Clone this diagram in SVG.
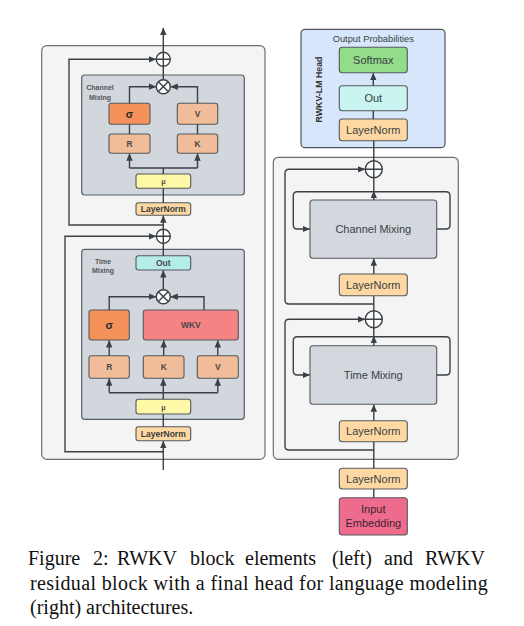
<svg xmlns="http://www.w3.org/2000/svg" width="524" height="626" viewBox="0 0 524 626">
<defs>
<marker id="ah" markerUnits="userSpaceOnUse" markerWidth="8" markerHeight="8" viewBox="0 0 8 8" refX="7" refY="4" orient="auto">
<path d="M0,0.8 L7.5,4 L0,7.2 Z" fill="#3b4046"/>
</marker>
<style>
.ln{fill:none;stroke:#3b4046;stroke-width:1.4}
.pan{fill:#f4f4f4;stroke:#6e6e6e;stroke-width:1.2}
.inner{fill:#d2d6dd;stroke:#5a5f66;stroke-width:1.2}
.bx{stroke:#55595e;stroke-width:1.1}
.ls{font-family:"Liberation Sans",Arial,sans-serif;font-weight:bold;fill:#4a4a4a;text-anchor:middle}
.rs{font-family:"Liberation Sans",Arial,sans-serif;fill:#3a3f44;text-anchor:middle;font-size:11px}
.cap{font-family:"Liberation Serif","Times New Roman",serif;font-size:20px;fill:#111}
.circ{fill:#fff;stroke:#3b4046;stroke-width:1.4}
</style>
</defs>

<!-- Left outer panel -->
<rect id="left-panel" x="41.7" y="45.7" width="223.3" height="413.6" rx="5" class="pan"/>

<!-- Channel mixing inner -->
<g id="channel-mixing-panel">
<rect x="81.7" y="75" width="162.6" height="120" rx="3" class="inner"/>
<text x="100" y="90" class="ls" style="font-size:7px;fill:#555">Channel</text>
<text x="100" y="99.5" class="ls" style="font-size:7px;fill:#555">Mixing</text>
</g>
<g id="cm-sigma"><rect x="109" y="103.3" width="41" height="21" rx="2.5" class="bx" fill="#f5915a"/><text x="129.5" y="118" class="ls" style="font-size:11px;fill:#2b2b2b">σ</text></g>
<g id="cm-v"><rect x="177.3" y="103.3" width="40.4" height="21" rx="2.5" class="bx" fill="#f1bc9a"/><text x="197.5" y="117" class="ls" style="font-size:8.5px">V</text></g>
<g id="cm-r"><rect x="109" y="134" width="41" height="19.3" rx="2.5" class="bx" fill="#f1bc9a"/><text x="129.5" y="146.8" class="ls" style="font-size:8.5px">R</text></g>
<g id="cm-k"><rect x="177.3" y="134" width="40.4" height="19.3" rx="2.5" class="bx" fill="#f1bc9a"/><text x="197.5" y="146.8" class="ls" style="font-size:8.5px">K</text></g>
<g id="cm-mu"><rect x="136" y="174" width="54.7" height="14.3" rx="2.5" class="bx" fill="#fff8a6"/><text x="163.3" y="184" class="ls" style="font-size:7px">μ</text></g>
<g id="cm-layernorm"><rect x="136" y="202.7" width="54.7" height="12.6" rx="2.5" class="bx" fill="#fdd8a2"/><text x="163.3" y="212" class="ls" style="font-size:8.5px;fill:#3d3d3d">LayerNorm</text></g>
<g id="cm-mult"><circle cx="163.3" cy="86.7" r="7" class="circ"/><path d="M158.4,81.8 L168.2,91.6 M168.2,81.8 L158.4,91.6" class="ln"/></g>
<g id="cm-plus"><circle cx="163.3" cy="59.3" r="7" class="circ"/><path d="M156.3,59.3 H170.3 M163.3,52.3 V66.3" class="ln"/></g>

<!-- Time mixing inner -->
<g id="time-mixing-panel">
<rect x="81.7" y="249.3" width="162.6" height="170" rx="3" class="inner"/>
<text x="103" y="264" class="ls" style="font-size:7px;fill:#555">Time</text>
<text x="103" y="273" class="ls" style="font-size:7px;fill:#555">Mixing</text>
</g>
<g id="tm-out"><rect x="136" y="255.7" width="54.7" height="14.3" rx="2.5" class="bx" fill="#b4ece8"/><text x="163.3" y="266" class="ls" style="font-size:8.5px">Out</text></g>
<g id="tm-sigma"><rect x="89" y="310" width="40.3" height="30" rx="2.5" class="bx" fill="#f5915a"/><text x="109.2" y="329" class="ls" style="font-size:11px;fill:#2b2b2b">σ</text></g>
<g id="tm-wkv"><rect x="143.3" y="310" width="95" height="30" rx="2.5" class="bx" fill="#f58383"/><text x="190.8" y="328.3" class="ls" style="font-size:8.5px">WKV</text></g>
<g id="tm-r"><rect x="89" y="355.7" width="40.3" height="22.6" rx="2.5" class="bx" fill="#f1bc9a"/><text x="109.2" y="370" class="ls" style="font-size:8.5px">R</text></g>
<g id="tm-k"><rect x="143.3" y="355.7" width="40.7" height="22.6" rx="2.5" class="bx" fill="#f1bc9a"/><text x="163.7" y="370" class="ls" style="font-size:8.5px">K</text></g>
<g id="tm-v"><rect x="197.3" y="355.7" width="41" height="22.6" rx="2.5" class="bx" fill="#f1bc9a"/><text x="217.8" y="370" class="ls" style="font-size:8.5px">V</text></g>
<g id="tm-mu"><rect x="136" y="399.3" width="54.7" height="14.7" rx="2.5" class="bx" fill="#fff8a6"/><text x="163.3" y="409.5" class="ls" style="font-size:7px">μ</text></g>
<g id="tm-layernorm"><rect x="136" y="426.7" width="54.7" height="14" rx="2.5" class="bx" fill="#fdd8a2"/><text x="163.3" y="436.8" class="ls" style="font-size:8.5px;fill:#3d3d3d">LayerNorm</text></g>
<g id="tm-mult"><circle cx="163.3" cy="296.7" r="7" class="circ"/><path d="M158.4,291.8 L168.2,301.6 M168.2,291.8 L158.4,301.6" class="ln"/></g>
<g id="tm-plus"><circle cx="163.3" cy="236.3" r="7" class="circ"/><path d="M156.3,236.3 H170.3 M163.3,229.3 V243.3" class="ln"/></g>

<!-- Right head panel -->
<g id="head-panel">
<rect x="301" y="29.3" width="144" height="118.4" rx="4" fill="#d7e6fb" stroke="#4f555c" stroke-width="1.2"/>
<text x="373.3" y="41.5" class="rs" style="font-size:9.3px">Output Probabilities</text>
<text transform="translate(321.5,89.5) rotate(-90)" class="ls" style="font-size:8.8px;fill:#333">RWKV-LM Head</text>
</g>
<g id="softmax"><rect x="339.3" y="47.3" width="68" height="25.4" rx="3" class="bx" fill="#92dc8a"/><text x="373.3" y="64" class="rs">Softmax</text></g>
<g id="head-out"><rect x="339.3" y="85.7" width="68" height="25" rx="3" class="bx" fill="#c9f4f0"/><text x="373.3" y="102" class="rs">Out</text></g>
<g id="head-layernorm"><rect x="339.3" y="119" width="68" height="21.7" rx="3" class="bx" fill="#fdd8a2"/><text x="373.3" y="133.7" class="rs">LayerNorm</text></g>

<!-- Right block panel -->
<rect id="block-panel" x="273.3" y="157.3" width="185" height="302" rx="5" class="pan"/>
<g id="channel-mixing"><rect x="310" y="200" width="126.7" height="58.3" rx="3" class="bx" fill="#d3d7de"/><text x="373.3" y="232.8" class="rs">Channel Mixing</text></g>
<g id="cm-ln-right"><rect x="339.3" y="274" width="68" height="21.7" rx="3" class="bx" fill="#fdd8a2"/><text x="373.3" y="288.7" class="rs">LayerNorm</text></g>
<g id="time-mixing"><rect x="310" y="345.7" width="126.7" height="58.6" rx="3" class="bx" fill="#d3d7de"/><text x="373.3" y="378.8" class="rs">Time Mixing</text></g>
<g id="tm-ln-right"><rect x="339.3" y="420.7" width="68" height="21" rx="3" class="bx" fill="#fdd8a2"/><text x="373.3" y="435.2" class="rs">LayerNorm</text></g>
<g id="plus-right-top"><circle cx="373.8" cy="169.3" r="8.5" class="circ"/><path d="M365.3,169.3 H382.3 M373.8,160.8 V177.8" class="ln"/></g>
<g id="plus-right-bottom"><circle cx="373.8" cy="319.3" r="8.5" class="circ"/><path d="M365.3,319.3 H382.3 M373.8,310.8 V327.8" class="ln"/></g>
<g id="ln0-right"><rect x="339.3" y="468.3" width="68" height="20.7" rx="3" class="bx" fill="#fdd8a2"/><text x="373.3" y="482.5" class="rs">LayerNorm</text></g>
<g id="input-embedding"><rect x="339.3" y="497.7" width="68" height="37.3" rx="3" class="bx" fill="#ee6b8d"/><text x="373.3" y="513" class="rs" style="fill:#3a2630">Input</text><text x="373.3" y="526.5" class="rs" style="fill:#3a2630">Embedding</text></g>

<!-- Connectors -->
<g id="connectors">
<path d="M163.3,52.3 V28" class="ln" marker-end="url(#ah)"/>
<path d="M163.3,79.7 V66.3" class="ln"/>
<path d="M129.5,103.3 V86.7 H155.8" class="ln" marker-end="url(#ah)"/>
<path d="M197.5,103.3 V86.7 H170.8" class="ln" marker-end="url(#ah)"/>
<path d="M129.5,134 V124.3 M197.5,134 V124.3" class="ln"/>
<path d="M163.3,174 V168 M129.5,168 H197.5" class="ln"/>
<path d="M129.5,168 V153.8" class="ln" marker-end="url(#ah)"/>
<path d="M197.5,168 V153.8" class="ln" marker-end="url(#ah)"/>
<path d="M163.3,202.7 V188.3" class="ln"/>
<path d="M163.3,229.3 V215.8" class="ln" marker-end="url(#ah)"/>
<path d="M163.3,225 H69 V59.3 H155.8" class="ln" marker-end="url(#ah)"/>
<path d="M163.3,255.7 V243.3" class="ln"/>
<path d="M163.3,289.7 V270.5" class="ln" marker-end="url(#ah)"/>
<path d="M109.2,310 V296.7 H155.8" class="ln" marker-end="url(#ah)"/>
<path d="M204,310 V296.7 H170.8" class="ln" marker-end="url(#ah)"/>
<path d="M109.2,355.7 V340.5" class="ln" marker-end="url(#ah)"/>
<path d="M163.7,355.7 V340.5" class="ln" marker-end="url(#ah)"/>
<path d="M217.8,355.7 V340.5" class="ln" marker-end="url(#ah)"/>
<path d="M163.3,399.3 V378.8" class="ln" marker-end="url(#ah)"/>
<path d="M109.2,392.7 H217.8" class="ln"/>
<path d="M109.2,392.7 V378.8" class="ln" marker-end="url(#ah)"/>
<path d="M217.8,392.7 V378.8" class="ln" marker-end="url(#ah)"/>
<path d="M163.3,426.7 V414" class="ln"/>
<path d="M163.3,470 V441.2" class="ln" marker-end="url(#ah)"/>
<path d="M163.3,451.7 H65 V236.3 H155.8" class="ln" marker-end="url(#ah)"/>
<path d="M373.3,85.7 V73.2" class="ln" marker-end="url(#ah)"/>
<path d="M373.3,119 V110.7" class="ln"/>
<path d="M373.8,160.8 V140.7" class="ln"/>
<path d="M373.8,200 V191.2" class="ln" marker-end="url(#ah)"/>
<path d="M373.8,191.7 V177.8" class="ln"/>
<path d="M436.7,229 H446 Q450,229 450,225 V195.7 Q450,191.7 446,191.7 H297.3 Q293.3,191.7 293.3,195.7 V225 Q293.3,229 297.3,229 H309.5" class="ln" marker-end="url(#ah)"/>
<path d="M373.8,274 V258.8" class="ln" marker-end="url(#ah)"/>
<path d="M373.8,310.8 V295.7" class="ln"/>
<path d="M373.8,304 H289 Q285,304 285,300 V173.3 Q285,169.3 289,169.3 H364.8" class="ln" marker-end="url(#ah)"/>
<path d="M373.8,345.7 V336.2" class="ln" marker-end="url(#ah)"/>
<path d="M373.8,336.7 V327.8" class="ln"/>
<path d="M436.7,375 H446 Q450,375 450,371 V340.7 Q450,336.7 446,336.7 H297.3 Q293.3,336.7 293.3,340.7 V371 Q293.3,375 297.3,375 H309.5" class="ln" marker-end="url(#ah)"/>
<path d="M373.8,420.7 V404.8" class="ln" marker-end="url(#ah)"/>
<path d="M373.8,468.3 V441.7" class="ln"/>
<path d="M373.8,450 H289 Q285,450 285,446 V323.3 Q285,319.3 289,319.3 H364.8" class="ln" marker-end="url(#ah)"/>
<path d="M373.8,497.7 V489" class="ln"/>
</g>

<!-- Caption -->
<g id="caption">
<text class="cap" y="565"><tspan x="28">Figure</tspan><tspan x="93">2:</tspan><tspan x="117">RWKV</tspan><tspan x="190">block</tspan><tspan x="245">elements</tspan><tspan x="332">(left)</tspan><tspan x="384">and</tspan><tspan x="425">RWKV</tspan></text>
<text class="cap" x="30" y="589.5" textLength="457.7" lengthAdjust="spacing">residual block with a final head for language modeling</text>
<text class="cap" x="30" y="614">(right) architectures.</text>
</g>
</svg>
